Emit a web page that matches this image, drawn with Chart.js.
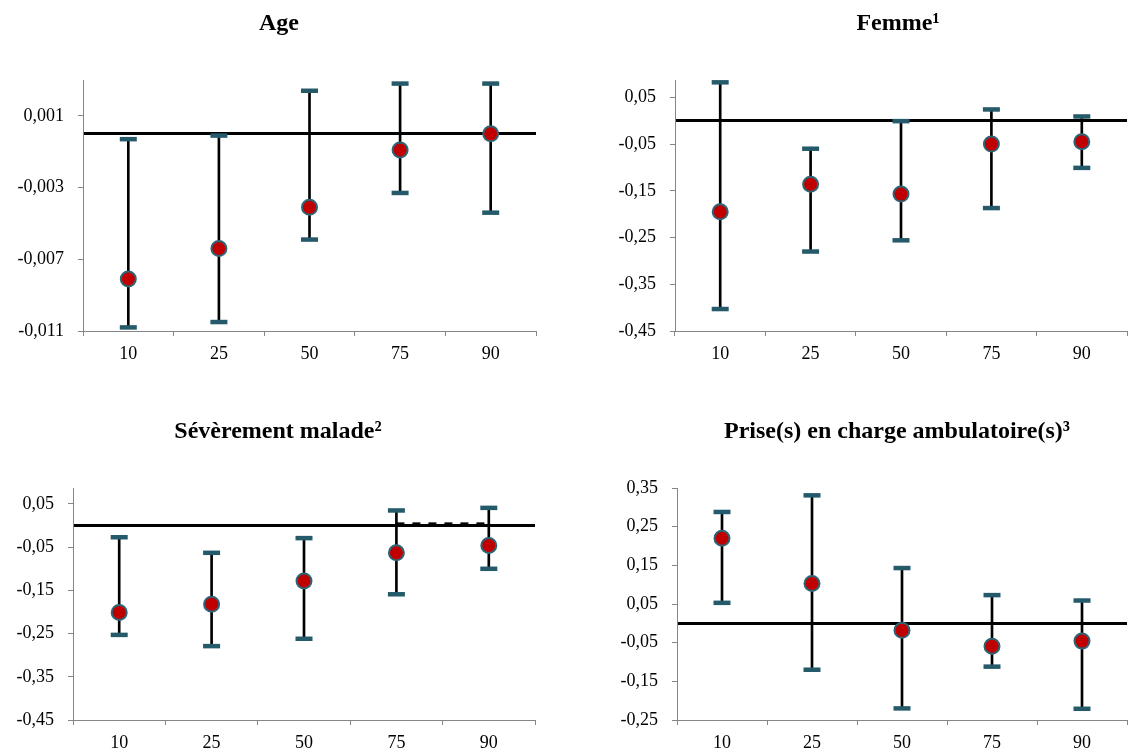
<!DOCTYPE html>
<html>
<head>
<meta charset="utf-8">
<script src="https://cdn.jsdelivr.net/npm/chart.js@4.4.1/dist/chart.umd.min.js"></script>
<style>
  html, body { margin: 0; background: #fff; overflow: hidden; width: 1130px; height: 756px; }
  canvas { position: absolute; }
</style>
</head>
<body>
<canvas id="chart-age" width="550" height="378" style="left:0px;top:0px"></canvas>
<canvas id="chart-femme" width="619" height="378" style="left:565px;top:0px"></canvas>
<canvas id="chart-severe" width="548" height="378" style="left:0px;top:378px"></canvas>
<canvas id="chart-prise" width="615" height="378" style="left:565px;top:378px"></canvas>
<script>
// quantiles
let categories = ['10', '25', '50', '75', '90'];

// Age
let ageCoef = [-0.0081, -0.0064, -0.0041, -0.0009, 0.0000];
let ageLow = [-0.0108, -0.0105, -0.0059, -0.0033, -0.0044];
let ageHigh = [-0.0003, -0.0001, 0.0024, 0.0028, 0.0028];
let ageTicks = [0.001, -0.003, -0.007, -0.011];
let ageTickLabels = ['0,001', '-0,003', '-0,007', '-0,011'];

// Femme
let femmeCoef = [-0.195, -0.136, -0.157, -0.050, -0.045];
let femmeLow = [-0.403, -0.280, -0.256, -0.187, -0.101];
let femmeHigh = [0.082, -0.060, -0.001, 0.024, 0.009];

// Sévèrement malade
let severeCoef = [-0.201, -0.182, -0.128, -0.063, -0.046];
let severeLow = [-0.253, -0.279, -0.262, -0.159, -0.100];
let severeHigh = [-0.027, -0.063, -0.029, 0.035, 0.041];
let severeDash = [null, null, null, 0.004, 0.004];

let pctTicks = [0.05, -0.05, -0.15, -0.25, -0.35, -0.45];
let pctTickLabels = ['0,05', '-0,05', '-0,15', '-0,25', '-0,35', '-0,45'];

// Prise(s) en charge ambulatoire(s)
let priseCoef = [0.220, 0.103, -0.018, -0.059, -0.046];
let priseLow = [0.053, -0.120, -0.220, -0.112, -0.221];
let priseHigh = [0.288, 0.331, 0.143, 0.073, 0.059];
let priseTicks = [0.35, 0.25, 0.15, 0.05, -0.05, -0.15, -0.25];
let priseTickLabels = ['0,35', '0,25', '0,15', '0,05', '-0,05', '-0,15', '-0,25'];

let serif = '"Liberation Serif", "Times New Roman", serif';
let axisGray = '#868686';
let capColor = '#245a6a';

function buildChart(id, o) {
    let ctx = document.getElementById(id).getContext('2d');
    let tickValues = o.ticks.concat([0]);
    let isZero = c => c.tick && c.tick.value === 0;

    let datasets = [
        {
            type: 'line',
            data: o.coef,
            showLine: false,
            pointRadius: 7.5,
            pointBackgroundColor: '#c00000',
            pointBorderColor: '#2e6576',
            pointBorderWidth: 2,
            order: 0
        },
        {
            type: 'line',
            data: o.high,
            showLine: false,
            pointStyle: 'line',
            pointRadius: 8.5,
            pointBorderColor: capColor,
            pointBorderWidth: 4.5,
            order: 1
        },
        {
            type: 'line',
            data: o.low,
            showLine: false,
            pointStyle: 'line',
            pointRadius: 8.5,
            pointBorderColor: capColor,
            pointBorderWidth: 4.5,
            order: 1
        },
        {
            type: 'bar',
            data: o.low.map((v, i) => [v, o.high[i]]),
            backgroundColor: '#000',
            barThickness: 2,
            order: 2
        }
    ];
    if (o.dash) {
        datasets.push({
            type: 'line',
            data: o.dash,
            borderColor: '#000',
            borderWidth: 3,
            borderDash: [8, 8],
            pointRadius: 0,
            order: 3
        });
    }

    return new Chart(ctx, {
        type: 'bar',
        data: { labels: categories, datasets: datasets },
        options: {
            responsive: false,
            animation: false,
            events: [],
            layout: { padding: { left: o.padLeft, right: 0, top: 0, bottom: 0 } },
            plugins: {
                legend: { display: false },
                tooltip: { enabled: false },
                title: {
                    display: true,
                    text: o.title,
                    color: '#000',
                    font: { family: serif, size: 24, weight: 'bold' },
                    padding: { top: o.titleTop, bottom: o.titleBottom }
                }
            },
            scales: {
                x: {
                    offset: true,
                    grid: { offset: true, drawOnChartArea: false, tickLength: 5, color: axisGray },
                    border: { color: axisGray },
                    ticks: { color: '#000', font: { family: serif, size: 18 }, padding: 7, maxRotation: 0, autoSkip: false },
                    afterFit: s => { s.height = o.xHeight; }
                },
                y: {
                    min: o.min,
                    max: o.max,
                    afterBuildTicks: s => { s.ticks = tickValues.map(v => ({ value: v })); },
                    afterFit: s => { s.width = o.yWidth; },
                    grid: {
                        color: c => isZero(c) ? '#000' : 'rgba(0,0,0,0)',
                        lineWidth: c => isZero(c) ? 3 : 1,
                        tickColor: c => isZero(c) ? 'rgba(0,0,0,0)' : axisGray,
                        tickLength: 5
                    },
                    border: { color: axisGray },
                    ticks: {
                        color: '#000',
                        font: { family: serif, size: 18 },
                        padding: 14,
                        callback: v => {
                            let i = o.ticks.indexOf(v);
                            return i < 0 ? '' : o.labels[i];
                        }
                    }
                },
                // empty box on the right, only there to shift the title centre
                spacer: {
                    type: 'linear',
                    position: 'right',
                    grid: { display: false, drawTicks: false },
                    border: { display: false },
                    ticks: { display: false },
                    afterFit: s => { s.width = o.spacer; }
                }
            }
        }
    });
}

let chartAge = buildChart('chart-age', {
    title: 'Age', coef: ageCoef, low: ageLow, high: ageHigh,
    ticks: ageTicks, labels: ageTickLabels, min: -0.011, max: 0.003,
    padLeft: 8, yWidth: 75, spacer: 14, xHeight: 47, titleTop: 9.6, titleBottom: 41.6
});

let chartFemme = buildChart('chart-femme', {
    title: 'Femme¹', coef: femmeCoef, low: femmeLow, high: femmeHigh,
    ticks: pctTicks, labels: pctTickLabels, min: -0.45, max: 0.087,
    padLeft: 47, yWidth: 63, spacer: 57, xHeight: 47, titleTop: 9.6, titleBottom: 41.6
});

let chartSevere = buildChart('chart-severe', {
    title: 'Sévèrement malade²', coef: severeCoef, low: severeLow, high: severeHigh, dash: severeDash,
    ticks: pctTicks, labels: pctTickLabels, min: -0.45, max: 0.087,
    padLeft: 8, yWidth: 65, spacer: 12, xHeight: 36, titleTop: 39.6, titleBottom: 41.6
});

let chartPrise = buildChart('chart-prise', {
    title: 'Prise(s) en charge ambulatoire(s)³', coef: priseCoef, low: priseLow, high: priseHigh,
    ticks: priseTicks, labels: priseTickLabels, min: -0.25, max: 0.35,
    padLeft: 49, yWidth: 63, spacer: 53, xHeight: 36, titleTop: 39.6, titleBottom: 41.6
});
</script>
</body>
</html>
